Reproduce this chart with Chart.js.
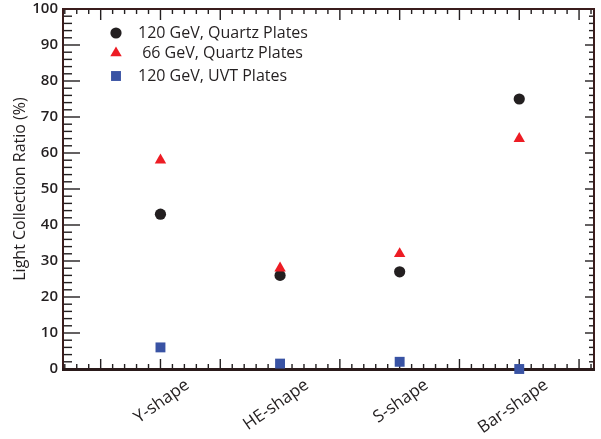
<!DOCTYPE html>
<html>
<head>
<meta charset="utf-8">
<script src="https://cdn.jsdelivr.net/npm/chart.js@4.4.0/dist/chart.umd.min.js"></script>
<style>
  html, body { margin: 0; padding: 0; background: #fff; }
  canvas { display: block; }
</style>
</head>
<body>
<canvas id="lightChart" width="601" height="439"></canvas>
<script>
// plate shapes along the x axis
const shapes = ["Y-shape", "HE-shape", "S-shape", "Bar-shape"];
const shapePositions = [1, 2, 3, 4];

// light collection ratio (%)
const quartz120 = [43, 26, 27, 75];
const quartz66 = [58, 28, 32, 64];
const uvt120 = [6, 1.5, 2, 0];

const seriesLabels = ["120 GeV, Quartz Plates", " 66 GeV, Quartz Plates", "120 GeV, UVT Plates"];
const legendRows = [33, 53, 76];

const ink = "#231f20";
const fontFamily = "'Open Sans', 'Liberation Sans', sans-serif";

function toPoints(values) {
    return values.map((v, i) => ({ x: shapePositions[i], y: v }));
}

// inward ticks on all four sides, then the box
function drawFrame(chart) {
    const c = chart.ctx;
    const area = chart.chartArea;
    const xs = chart.scales.x;
    const ys = chart.scales.y;
    const L = area.left, R = area.right, T = area.top, B = area.bottom;

    c.save();
    c.fillStyle = ink;
    for (let v = 0; v <= 100; v += 2) {
        const py = ys.getPixelForValue(v);
        const major = v % 10 === 0;
        c.fillRect(L, py - 0.7, major ? 17 : 9, 1.4);
        c.fillRect(R - (major ? 9 : 5), py - 0.7, major ? 9 : 5, 1.4);
    }
    for (let i = 2; i <= 46; i++) {
        const px = xs.getPixelForValue(i / 10);
        const major = i % 5 === 0;
        c.fillRect(px - 0.7, B - (major ? 10 : 5), 1.4, major ? 10 : 5);
        c.fillRect(px - 0.7, T, 1.4, major ? 11 : 5);
    }

    c.strokeStyle = "#3a1c1c";
    c.lineWidth = 2;
    c.strokeRect(L, T, R - L, B - T);
    c.fillStyle = "#2a1a1a";
    c.fillRect(L - 1, B - 1, R - L + 2, 3);
    c.restore();
}

const framePlugin = {
    id: "frame",
    beforeDatasetsDraw(chart) { drawFrame(chart); }
};

// legend inside the plot, top left
const innerLegend = {
    id: "innerLegend",
    afterDraw(chart) {
        const c = chart.ctx;
        c.save();
        chart.data.datasets.forEach((ds, row) => {
            c.fillStyle = ds.backgroundColor;
            c.strokeStyle = ds.backgroundColor;
            Chart.helpers.drawPoint(c, {
                pointStyle: ds.pointStyle,
                radius: ds.pointRadius,
                rotation: 0,
                borderWidth: 0
            }, 116, legendRows[row]);
            c.fillStyle = ink;
            c.font = "16px " + fontFamily;
            c.textBaseline = "middle";
            c.textAlign = "left";
            c.fillText(seriesLabels[row], 138, legendRows[row]);
        });
        c.restore();
    }
};

const canvas = document.getElementById("lightChart");
const lightChart = new Chart(canvas, {
    type: "scatter",
    data: {
        datasets: [
            {
                label: seriesLabels[0],
                data: toPoints(quartz120),
                pointStyle: "circle",
                pointRadius: 5.6,
                backgroundColor: ink,
                borderColor: ink,
                borderWidth: 0,
                order: 1,
                clip: false
            },
            {
                label: seriesLabels[1],
                data: toPoints(quartz66),
                pointStyle: "triangle",
                pointRadius: 6.6,
                backgroundColor: "#ed1c24",
                borderColor: "#ed1c24",
                borderWidth: 0,
                order: 0,
                clip: false
            },
            {
                label: seriesLabels[2],
                data: toPoints(uvt120),
                pointStyle: "rect",
                pointRadius: 7,
                backgroundColor: "#3953a4",
                borderColor: "#3953a4",
                borderWidth: 0,
                order: 2,
                clip: false
            }
        ]
    },
    options: {
        responsive: false,
        animation: false,
        devicePixelRatio: 1,
        layout: { padding: { left: 6, top: 9, right: 2, bottom: 0 } },
        plugins: {
            legend: { display: false },
            tooltip: { enabled: false }
        },
        scales: {
            x: {
                type: "linear",
                min: 0.185,
                max: 4.625,
                grid: { display: false, drawTicks: false },
                border: { display: false },
                afterBuildTicks: scale => {
                    scale.ticks = shapePositions.map(v => ({ value: v }));
                },
                afterFit: scale => {
                    scale.height = 70;
                    scale.paddingLeft = 0;
                    scale.paddingRight = 0;
                },
                ticks: {
                    autoSkip: false,
                    minRotation: 35,
                    maxRotation: 35,
                    labelOffset: 27,
                    padding: 6,
                    color: ink,
                    font: { family: fontFamily, size: 17 },
                    callback: value => shapes[shapePositions.indexOf(value)] || ""
                }
            },
            y: {
                min: 0,
                max: 100,
                grid: { display: false, drawTicks: false },
                border: { display: false },
                afterFit: scale => {
                    scale.width = 57;
                    scale.paddingTop = 0;
                    scale.paddingBottom = 0;
                },
                title: {
                    display: true,
                    text: "Light Collection Ratio (%)",
                    color: ink,
                    font: { family: fontFamily, size: 16 },
                    padding: { top: 5, bottom: 0 }
                },
                ticks: {
                    stepSize: 10,
                    padding: 5,
                    color: ink,
                    font: { family: fontFamily, size: 15, weight: "600" }
                }
            }
        }
    },
    plugins: [framePlugin, innerLegend]
});
</script>
</body>
</html>
